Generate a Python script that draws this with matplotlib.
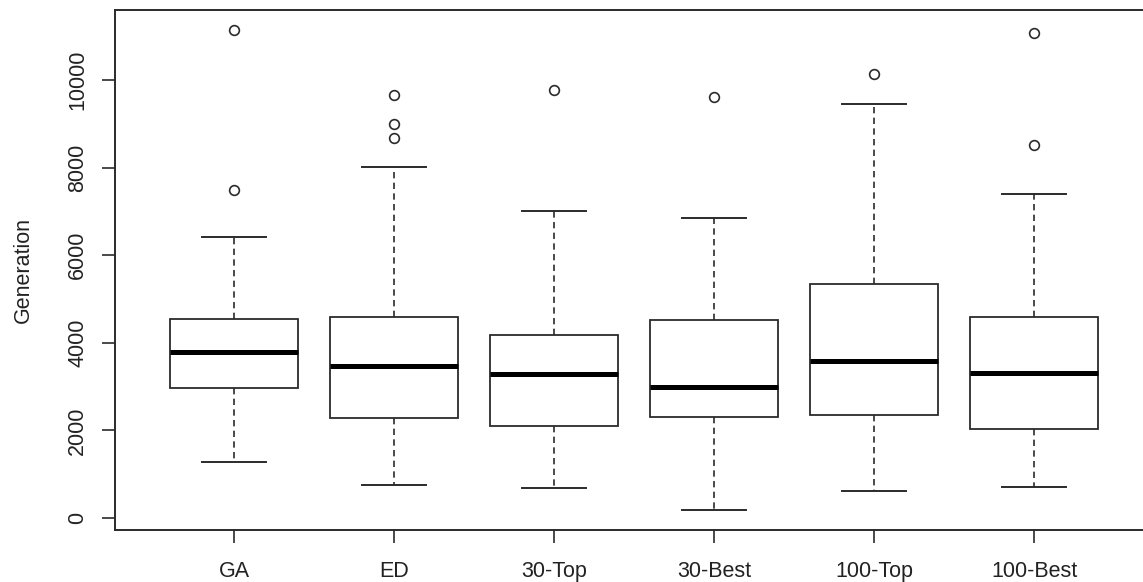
import matplotlib
matplotlib.use("Agg")
import matplotlib.pyplot as plt

# values (generation counts)
labels = ["GA", "ED", "30-Top", "30-Best", "100-Top", "100-Best"]
q1 = [2959, 2274, 2100, 2297, 2352, 2039]
med = [3781, 3461, 3279, 2991, 3591, 3317]
q3 = [4543, 4580, 4169, 4511, 5338, 4580]
whis_lo = [1279, 744, 676, 174, 616, 708]
whis_hi = [6422, 8005, 7016, 6856, 9459, 7404]
outliers = [
    [7495, 11142],
    [8676, 8995, 9648],
    [9772],
    [9612],
    [10128],
    [8516, 11080],
]

plt.rcParams['font.family'] = ['Liberation Sans', 'DejaVu Sans']

stats = []
for i in range(len(labels)):
    stats.append({
        "label": labels[i],
        "q1": q1[i],
        "med": med[i],
        "q3": q3[i],
        "whislo": whis_lo[i],
        "whishi": whis_hi[i],
        "fliers": outliers[i],
    })

line_col = "#2b2b2b"
fig = plt.figure(figsize=(11.43, 5.82), dpi=100)
ax = fig.add_axes([115 / 1143, 52 / 582, 1 - 115 / 1143, 520 / 582])

ax.bxp(stats, positions=range(1, len(labels) + 1), widths=0.8, capwidths=0.4,
       patch_artist=True,
       boxprops=dict(facecolor="white", edgecolor=line_col, linewidth=1.3),
       medianprops=dict(color="black", linewidth=3.6, solid_capstyle="butt"),
       whiskerprops=dict(color=line_col, linewidth=1.2, linestyle=(0, (3.8, 2.6))),
       capprops=dict(color=line_col, linewidth=1.4),
       flierprops=dict(marker="o", markersize=7, markerfacecolor="none",
                       markeredgecolor=line_col, markeredgewidth=1.2))

ax.set_xlim(0.256, 6.68)
ax.set_ylim(-273, 11600)
ax.set_yticks([0, 2000, 4000, 6000, 8000, 10000])
ax.set_xticks(range(1, len(labels) + 1))
ax.set_xticklabels(labels)

for s in ["left", "top", "bottom"]:
    ax.spines[s].set_color(line_col)
    ax.spines[s].set_linewidth(1.4)
ax.spines["right"].set_visible(False)

ax.tick_params(axis="both", length=9.4, width=1.2, color=line_col,
               labelsize=15.5, labelcolor="#222222", pad=10)
ax.tick_params(axis="x", pad=13)
ax.tick_params(axis="y", labelrotation=90)
for t in ax.get_yticklabels():
    t.set_va("center")

ax.set_ylabel("Generation", fontsize=15.5, color="#222222")
ax.yaxis.set_label_coords((34 - 115) / (1143 - 115), 0.5)

fig.savefig("out.png", dpi=100)
